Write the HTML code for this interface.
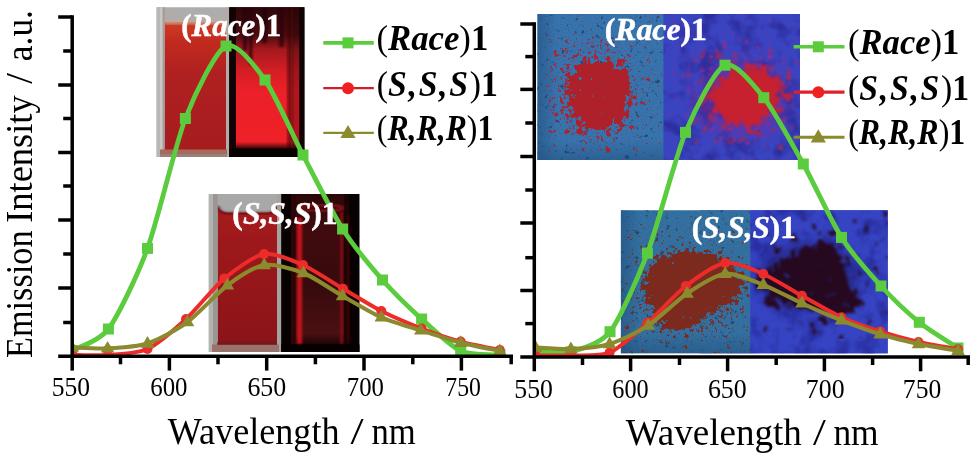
<!DOCTYPE html>
<html><head><meta charset="utf-8"><title>Emission spectra</title>
<style>
html,body{margin:0;padding:0;background:#fff;}
body{width:977px;height:456px;overflow:hidden;}
svg{display:block;font-family:"Liberation Serif","Times New Roman",serif;}
.bi{font-weight:bold;font-style:italic;}
.b{font-weight:bold;}
.i{font-style:italic;}
.w{fill:#fff;}
.wl{stroke:#fff;stroke-width:0.5px;}
</style></head><body>
<svg width="977" height="456" viewBox="0 0 977 456">
<defs>
<filter id="powA" x="-30%" y="-30%" width="160%" height="160%" color-interpolation-filters="sRGB">
  <feTurbulence type="fractalNoise" baseFrequency="0.17" numOctaves="3" seed="4" result="n"/>
  <feColorMatrix in="n" type="matrix" values="0 0 0 0 0  0 0 0 0 0  0 0 0 0 0  1 0 0 0 0" result="na"/>
  <feComposite in="SourceGraphic" in2="na" operator="arithmetic" k1="0" k2="1" k3="2.0" k4="-1.12" result="s"/>
  <feComponentTransfer in="s" result="t"><feFuncA type="linear" slope="9" intercept="-2.2"/></feComponentTransfer>
  <feFlood flood-color="#ae212a" result="f"/>
  <feComposite in="f" in2="t" operator="in" result="c"/>
  <feGaussianBlur in="c" stdDeviation="0.6"/>
</filter>
<filter id="powB" x="-30%" y="-30%" width="160%" height="160%" color-interpolation-filters="sRGB">
  <feTurbulence type="fractalNoise" baseFrequency="0.13" numOctaves="3" seed="9" result="n"/>
  <feColorMatrix in="n" type="matrix" values="0 0 0 0 0  0 0 0 0 0  0 0 0 0 0  1 0 0 0 0" result="na"/>
  <feComposite in="SourceGraphic" in2="na" operator="arithmetic" k1="0" k2="1" k3="1.7" k4="-0.93" result="s"/>
  <feComponentTransfer in="s" result="t"><feFuncA type="linear" slope="5" intercept="-1.1"/></feComponentTransfer>
  <feFlood flood-color="#c7202f" result="f"/>
  <feComposite in="f" in2="t" operator="in" result="c"/>
  <feGaussianBlur in="c" stdDeviation="1.3"/>
</filter>
<filter id="powC" x="-30%" y="-30%" width="160%" height="160%" color-interpolation-filters="sRGB">
  <feTurbulence type="fractalNoise" baseFrequency="0.2" numOctaves="3" seed="15" result="n"/>
  <feColorMatrix in="n" type="matrix" values="0 0 0 0 0  0 0 0 0 0  0 0 0 0 0  1 0 0 0 0" result="na"/>
  <feComposite in="SourceGraphic" in2="na" operator="arithmetic" k1="0" k2="1" k3="1.8" k4="-1.0" result="s"/>
  <feComponentTransfer in="s" result="t"><feFuncA type="linear" slope="8" intercept="-2"/></feComponentTransfer>
  <feFlood flood-color="#7b2a1d" result="f"/>
  <feComposite in="f" in2="t" operator="in" result="c"/>
  <feGaussianBlur in="c" stdDeviation="0.6"/>
</filter>
<filter id="powD" x="-30%" y="-30%" width="160%" height="160%" color-interpolation-filters="sRGB">
  <feTurbulence type="fractalNoise" baseFrequency="0.11" numOctaves="3" seed="31" result="n"/>
  <feColorMatrix in="n" type="matrix" values="0 0 0 0 0  0 0 0 0 0  0 0 0 0 0  1 0 0 0 0" result="na"/>
  <feComposite in="SourceGraphic" in2="na" operator="arithmetic" k1="0" k2="1" k3="2.0" k4="-1.12" result="s"/>
  <feComponentTransfer in="s" result="t"><feFuncA type="linear" slope="5" intercept="-1.1"/></feComponentTransfer>
  <feFlood flood-color="#26081f" result="f"/>
  <feComposite in="f" in2="t" operator="in" result="c"/>
  <feGaussianBlur in="c" stdDeviation="1.4"/>
</filter>
<filter id="scatA" x="-30%" y="-30%" width="160%" height="160%" color-interpolation-filters="sRGB">
  <feTurbulence type="fractalNoise" baseFrequency="0.33" numOctaves="2" seed="41" result="n"/>
  <feColorMatrix in="n" type="matrix" values="0 0 0 0 0  0 0 0 0 0  0 0 0 0 0  1 0 0 0 0" result="na"/>
  <feComposite in="SourceGraphic" in2="na" operator="arithmetic" k1="0" k2="1" k3="1.6" k4="-0.95" result="s"/>
  <feComponentTransfer in="s" result="t"><feFuncA type="linear" slope="9" intercept="-2.2"/></feComponentTransfer>
  <feFlood flood-color="#993048" result="f"/>
  <feComposite in="f" in2="t" operator="in" result="c"/>
  <feGaussianBlur in="c" stdDeviation="0.55"/>
</filter>
<filter id="scatB" x="-30%" y="-30%" width="160%" height="160%" color-interpolation-filters="sRGB">
  <feTurbulence type="fractalNoise" baseFrequency="0.22" numOctaves="2" seed="77" result="n"/>
  <feColorMatrix in="n" type="matrix" values="0 0 0 0 0  0 0 0 0 0  0 0 0 0 0  1 0 0 0 0" result="na"/>
  <feComposite in="SourceGraphic" in2="na" operator="arithmetic" k1="0" k2="1" k3="1.6" k4="-0.95" result="s"/>
  <feComponentTransfer in="s" result="t"><feFuncA type="linear" slope="6" intercept="-1.4"/></feComponentTransfer>
  <feFlood flood-color="#a0288c" result="f"/>
  <feComposite in="f" in2="t" operator="in" result="c"/>
  <feGaussianBlur in="c" stdDeviation="1.2"/>
</filter>
<filter id="scatC" x="-30%" y="-30%" width="160%" height="160%" color-interpolation-filters="sRGB">
  <feTurbulence type="fractalNoise" baseFrequency="0.33" numOctaves="2" seed="51" result="n"/>
  <feColorMatrix in="n" type="matrix" values="0 0 0 0 0  0 0 0 0 0  0 0 0 0 0  1 0 0 0 0" result="na"/>
  <feComposite in="SourceGraphic" in2="na" operator="arithmetic" k1="0" k2="1" k3="1.6" k4="-0.95" result="s"/>
  <feComponentTransfer in="s" result="t"><feFuncA type="linear" slope="9" intercept="-2.2"/></feComponentTransfer>
  <feFlood flood-color="#7a3024" result="f"/>
  <feComposite in="f" in2="t" operator="in" result="c"/>
  <feGaussianBlur in="c" stdDeviation="0.55"/>
</filter>
<filter id="pb5" x="-40%" y="-40%" width="180%" height="180%"><feGaussianBlur stdDeviation="5"/></filter>
<filter id="pb7" x="-40%" y="-40%" width="180%" height="180%"><feGaussianBlur stdDeviation="7"/></filter>
<filter id="speck" x="0" y="0" width="100%" height="100%" color-interpolation-filters="sRGB">
  <feTurbulence type="fractalNoise" baseFrequency="0.2" numOctaves="2" seed="7" result="n"/>
  <feColorMatrix in="n" type="matrix" values="0 0 0 0 0  0 0 0 0 0  0 0 0 0 0  8 0 0 0 -5.3" result="a"/>
  <feComposite in="SourceGraphic" in2="a" operator="in" result="q"/><feGaussianBlur in="q" stdDeviation="0.5"/>
</filter>
<filter id="grain" x="0" y="0" width="100%" height="100%" color-interpolation-filters="sRGB">
  <feTurbulence type="fractalNoise" baseFrequency="0.75" numOctaves="2" seed="3" result="n"/>
  <feColorMatrix in="n" type="matrix" values="0 0 0 0 0  0 0 0 0 0  0 0 0 0 0  1.2 0 0 0 -0.5" result="a"/>
  <feComposite in="SourceGraphic" in2="a" operator="in"/>
</filter>
<filter id="cloud" x="0" y="0" width="100%" height="100%" color-interpolation-filters="sRGB">
  <feTurbulence type="fractalNoise" baseFrequency="0.05" numOctaves="3" seed="23" result="n"/>
  <feColorMatrix in="n" type="matrix" values="0 0 0 0 0  0 0 0 0 0  0 0 0 0 0  3.2 0 0 0 -1.45" result="a"/>
  <feComposite in="SourceGraphic" in2="a" operator="in"/>
</filter>
<filter id="b1" x="-50%" y="-10%" width="200%" height="120%"><feGaussianBlur stdDeviation="1"/></filter>
<filter id="b2"><feGaussianBlur stdDeviation="2"/></filter>
<filter id="b3"><feGaussianBlur stdDeviation="3.5"/></filter>
<filter id="b6" x="-50%" y="-50%" width="200%" height="200%"><feGaussianBlur stdDeviation="7"/></filter>
<radialGradient id="rg1"><stop offset="0" stop-color="#000" stop-opacity="1"/><stop offset="0.55" stop-color="#000" stop-opacity="0.95"/><stop offset="0.8" stop-color="#000" stop-opacity="0.45"/><stop offset="1" stop-color="#000" stop-opacity="0"/></radialGradient>
<linearGradient id="liqA" x1="0" y1="0" x2="0" y2="1">
  <stop offset="0" stop-color="#cf3e24"/><stop offset="0.15" stop-color="#c22a1f"/><stop offset="0.4" stop-color="#b02020"/><stop offset="1" stop-color="#a61c1f"/>
</linearGradient>
<linearGradient id="glowA" x1="0" y1="0" x2="0" y2="1">
  <stop offset="0" stop-color="#2e0708"/><stop offset="0.2" stop-color="#4c0c0f"/><stop offset="0.3" stop-color="#a4191e"/><stop offset="0.45" stop-color="#d41e24"/><stop offset="0.6" stop-color="#ec2028"/><stop offset="0.95" stop-color="#ee2028"/><stop offset="1" stop-color="#2a0405"/>
</linearGradient>
<linearGradient id="liqB" x1="0" y1="0" x2="0" y2="1">
  <stop offset="0" stop-color="#a81c1e"/><stop offset="0.3" stop-color="#9c181b"/><stop offset="1" stop-color="#8a1418"/>
</linearGradient>
<linearGradient id="darkB" x1="0" y1="0" x2="0" y2="1">
  <stop offset="0" stop-color="#2c0708"/><stop offset="0.25" stop-color="#400b0e"/><stop offset="0.6" stop-color="#360a0c"/><stop offset="0.93" stop-color="#4a1012"/><stop offset="1" stop-color="#200405"/>
</linearGradient>
<clipPath id="cA"><rect x="156.6" y="7.2" width="147.8" height="149.7"/></clipPath>
<clipPath id="cB"><rect x="208.8" y="194" width="150.7" height="158"/></clipPath>
<clipPath id="cC1"><rect x="537.4" y="14" width="126.3" height="146"/></clipPath>
<clipPath id="cC2"><rect x="663.7" y="14" width="136.3" height="146"/></clipPath>
<clipPath id="cD1"><rect x="620.9" y="210.3" width="129.6" height="143"/></clipPath>
<clipPath id="cD2"><rect x="750.5" y="210.3" width="137.2" height="143"/></clipPath>
<clipPath id="plotL"><rect x="72.2" y="0" width="448" height="356.3"/></clipPath>
<clipPath id="plotR"><rect x="534.3" y="0" width="443" height="357"/></clipPath>
<linearGradient id="vigL" x1="0" y1="0" x2="1" y2="0"><stop offset="0" stop-color="#1d4a78" stop-opacity="0.5"/><stop offset="1" stop-color="#1d4a78" stop-opacity="0"/></linearGradient>
<linearGradient id="vigB" x1="0" y1="1" x2="0" y2="0"><stop offset="0" stop-color="#1d4a78" stop-opacity="0.45"/><stop offset="1" stop-color="#1d4a78" stop-opacity="0"/></linearGradient>

</defs>
<rect width="977" height="456" fill="#fff"/>

<!-- photo A: racemate solution, daylight / UV -->
<g clip-path="url(#cA)">
  <rect x="156" y="7" width="74" height="151" fill="#aeadac"/>
  <rect x="164.6" y="22" width="61.4" height="128" fill="url(#liqA)"/>
  <rect x="156" y="7" width="5" height="151" fill="#b9b7b5"/>
  <rect x="160" y="7" width="3" height="146" fill="#c9c6c4"/>
  <rect x="162.6" y="7" width="2.2" height="146" fill="#a39c98"/>
  <rect x="226" y="7" width="3.5" height="151" fill="#b1acaa"/>
  <rect x="164.6" y="19.5" width="61.4" height="5" fill="#c9a698" opacity="0.75" filter="url(#b1)"/>
  <rect x="160" y="149.5" width="67" height="8" fill="#a66a5c"/>
  <rect x="160" y="154" width="67" height="4" fill="#9b8078"/>
  <rect x="229.3" y="7" width="76" height="151" fill="#0c0203"/>
  <rect x="236" y="7" width="63.5" height="142" fill="url(#glowA)"/>
  <rect x="229.3" y="7" width="6.7" height="151" fill="#120203"/>
  <rect x="243" y="7" width="4" height="44" fill="#240607" opacity="0.7" filter="url(#b1)"/>
  <rect x="249" y="7" width="3.4" height="58" fill="#2a0608" opacity="0.75" filter="url(#b1)"/>
  <rect x="262" y="7" width="5" height="36" fill="#20050a" opacity="0.7" filter="url(#b1)"/>
  <rect x="279" y="7" width="5" height="40" fill="#2a0608" opacity="0.7" filter="url(#b1)"/>
  <rect x="289" y="7" width="10.5" height="142" fill="#200406" opacity="0.3"/>
  <rect x="287.6" y="7" width="1.8" height="142" fill="#3a080a" opacity="0.85" filter="url(#b1)"/>
  <rect x="291.3" y="7" width="1.6" height="142" fill="#4a0a0c" opacity="0.7" filter="url(#b1)"/>
  <rect x="299.5" y="7" width="6" height="151" fill="#0e0203"/>
  <rect x="229.3" y="148.5" width="76" height="10" fill="#080102"/>
</g>
<!-- photo B: (S,S,S) solution -->
<g clip-path="url(#cB)">
  <rect x="208" y="194" width="74" height="159" fill="#a9a8a8"/>
  <path d="M217.7,205 Q218.5,212 227,212.5 L268,212.5 Q276,212 277,205 L277,347 L217.7,347 Z" fill="url(#liqB)"/>
  <path d="M218.2,206 Q219,213 227,213.6 L268,213.6 Q275.6,213 276.5,206" fill="none" stroke="#5e1216" stroke-width="2.6" opacity="0.75" filter="url(#b1)"/>
  <rect x="208" y="194" width="5" height="159" fill="#b5b3b2"/>
  <rect x="213" y="194" width="4.7" height="153" fill="#9a9694"/>
  <rect x="277" y="194" width="4.3" height="159" fill="#a5a2a0"/>
  <rect x="212" y="344.5" width="67" height="8" fill="#9a726c"/>
  <rect x="217" y="342" width="60" height="3" fill="#6e1a1c" opacity="0.6"/>
  <rect x="281.2" y="194" width="79" height="159" fill="#070102"/>
  <rect x="291" y="194" width="58" height="150" fill="url(#darkB)"/>
  <rect x="291" y="194" width="5" height="150" fill="#2a0507" opacity="0.9"/>
  <rect x="296.8" y="218" width="5.4" height="126" fill="#c4161c" opacity="0.95" filter="url(#b1)"/>
  <rect x="340" y="212" width="3" height="132" fill="#8a1014" opacity="0.85" filter="url(#b1)"/>
  <rect x="344" y="194" width="5" height="150" fill="#1a0304" opacity="0.9"/>
  <rect x="347.5" y="215" width="1.8" height="128" fill="#5a0a0d" opacity="0.8" filter="url(#b1)"/>
  <ellipse cx="321" cy="208" rx="22" ry="3.2" fill="none" stroke="#a8161c" stroke-width="2.2" opacity="0.85" filter="url(#b1)"/>
  <rect x="281.2" y="344.5" width="79" height="9" fill="#060001"/>
</g>
<!-- photo C: racemate powder -->
<rect x="600" y="14" width="200" height="146" fill="#3b44c0"/>
<g clip-path="url(#cC1)">
  <rect x="537" y="13" width="128" height="148" fill="#3a75af"/>
  <rect x="537" y="13" width="128" height="148" fill="#2a5f92" filter="url(#grain)"/>
  <rect x="537" y="13" width="128" height="148" fill="#1f4a78" filter="url(#speck)"/>
  <rect x="537" y="13" width="20" height="148" fill="url(#vigL)"/><rect x="537" y="140" width="128" height="21" fill="url(#vigB)"/>
  <g filter="url(#scatA)"><ellipse cx="590" cy="88" rx="46" ry="52" fill="#000" opacity="0.19"/></g>
  <g filter="url(#powA)"><polygon filter="url(#pb7)" transform="translate(599,94) scale(0.9) translate(-599,-94)" points="566,76 578,60 612,56 630,68 634,100 626,126 600,134 576,128 564,108" fill="#000"/></g>
</g>
<g clip-path="url(#cC2)">
  <rect x="663" y="13" width="138" height="148" fill="#3b44c0"/>
  <rect x="663" y="13" width="138" height="148" fill="#2c2e9e" filter="url(#cloud)"/>
  <ellipse cx="742" cy="98" rx="44" ry="36" fill="#7a2a9a" opacity="0.55" filter="url(#b6)"/>
  <g filter="url(#scatB)"><ellipse cx="738" cy="92" rx="58" ry="54" fill="#000" opacity="0.2"/></g>
  <g filter="url(#powB)"><polygon filter="url(#pb7)" transform="translate(746,97) scale(0.9) translate(-746,-97)" points="704,102 722,70 760,64 790,82 778,110 752,134 724,124" fill="#000"/></g>
</g>
<!-- photo D: (S,S,S) powder -->
<rect x="700" y="210.3" width="187.7" height="143" fill="#3644c3"/>
<g clip-path="url(#cD1)">
  <rect x="620" y="210" width="132" height="144" fill="#3572a2"/>
  <rect x="620" y="210" width="132" height="144" fill="#2a5c8c" filter="url(#grain)"/>
  <rect x="620" y="210" width="132" height="144" fill="#1f4a74" filter="url(#speck)"/>
  <rect x="620" y="210" width="20" height="144" fill="url(#vigL)"/><rect x="620" y="332" width="132" height="22" fill="url(#vigB)"/>
  <g filter="url(#scatC)"><ellipse cx="690" cy="292" rx="56" ry="44" fill="#000" opacity="0.18"/></g>
  <g filter="url(#powC)"><polygon filter="url(#pb5)" points="642,283 656,260 682,252 715,254 734,268 745,285 730,302 704,316 684,331 664,328 652,309" fill="#000"/></g>
</g>
<g clip-path="url(#cD2)">
  <rect x="750" y="210" width="139" height="144" fill="#3644c3"/>
  <rect x="750" y="210" width="139" height="144" fill="#2a2fa2" filter="url(#cloud)"/>
  <ellipse cx="809" cy="277" rx="50" ry="34" fill="#1c1a70" opacity="0.6" filter="url(#b6)"/>
  <g filter="url(#powD)"><polygon filter="url(#pb7)" transform="translate(810,278) scale(0.98) translate(-810,-278)" points="760,284 782,258 812,247 826,234 840,250 845,275 864,300 848,313 815,315 788,305 766,300" fill="#000"/></g>
</g>

<g clip-path="url(#plotL)"><path d="M72.0,350.5 C76.6,347.8 98.8,341.9 108.4,329.0 C118.0,316.1 137.7,275.1 147.5,248.4 C157.3,221.7 175.5,144.1 185.4,118.5 C195.3,92.9 215.9,50.9 226.0,46.0 C236.1,41.1 255.2,66.2 265.0,80.0 C274.8,93.8 293.2,136.1 303.0,155.0 C312.8,173.9 332.5,213.2 342.6,229.0 C352.7,244.8 372.5,268.6 382.5,280.0 C392.5,291.4 411.7,310.0 421.6,319.0 C431.5,328.0 450.8,346.4 460.7,351.0 C470.6,355.6 495.0,354.5 500.0,355.0" fill="none" stroke="#5acc3d" stroke-width="4.8" stroke-linejoin="round"/><rect x="66.5" y="345.0" width="11" height="11" fill="#5acc3d"/><rect x="102.9" y="323.5" width="11" height="11" fill="#5acc3d"/><rect x="142.0" y="242.9" width="11" height="11" fill="#5acc3d"/><rect x="179.9" y="113.0" width="11" height="11" fill="#5acc3d"/><rect x="220.5" y="40.5" width="11" height="11" fill="#5acc3d"/><rect x="259.5" y="74.5" width="11" height="11" fill="#5acc3d"/><rect x="297.5" y="149.5" width="11" height="11" fill="#5acc3d"/><rect x="337.1" y="223.5" width="11" height="11" fill="#5acc3d"/><rect x="377.0" y="274.5" width="11" height="11" fill="#5acc3d"/><rect x="416.1" y="313.5" width="11" height="11" fill="#5acc3d"/><rect x="455.2" y="345.5" width="11" height="11" fill="#5acc3d"/><rect x="494.5" y="349.5" width="11" height="11" fill="#5acc3d"/><path d="M72.0,354.8 C76.5,354.8 98.0,355.7 107.6,355.0 C117.2,354.3 137.6,353.6 147.5,349.0 C157.4,344.4 176.3,327.9 186.0,319.0 C195.7,310.1 214.4,286.7 224.3,278.5 C234.2,270.3 254.0,255.7 264.0,254.0 C274.0,252.3 293.0,260.6 303.0,265.0 C313.0,269.4 333.1,282.9 343.0,288.7 C352.9,294.5 371.3,306.0 381.3,311.0 C391.3,316.0 411.5,324.6 421.6,328.5 C431.7,332.4 450.8,338.9 460.7,341.6 C470.6,344.3 494.8,348.9 499.8,350.0" fill="none" stroke="#ee2b2b" stroke-width="4" stroke-linejoin="round"/><circle cx="72.0" cy="354.8" r="5" fill="#ee2b2b"/><circle cx="107.6" cy="355.0" r="5" fill="#ee2b2b"/><circle cx="147.5" cy="349.0" r="5" fill="#ee2b2b"/><circle cx="186.0" cy="319.0" r="5" fill="#ee2b2b"/><circle cx="224.3" cy="278.5" r="5" fill="#ee2b2b"/><circle cx="264.0" cy="254.0" r="5" fill="#ee2b2b"/><circle cx="303.0" cy="265.0" r="5" fill="#ee2b2b"/><circle cx="343.0" cy="288.7" r="5" fill="#ee2b2b"/><circle cx="381.3" cy="311.0" r="5" fill="#ee2b2b"/><circle cx="421.6" cy="328.5" r="5" fill="#ee2b2b"/><circle cx="460.7" cy="341.6" r="5" fill="#ee2b2b"/><circle cx="499.8" cy="350.0" r="5" fill="#ee2b2b"/><path d="M72.0,347.5 C76.5,347.6 98.0,348.9 107.6,348.4 C117.2,347.9 137.4,346.8 147.5,343.5 C157.6,340.2 177.4,329.4 187.5,322.0 C197.6,314.6 217.7,292.5 227.4,285.3 C237.1,278.1 254.6,266.6 264.2,265.0 C273.8,263.4 293.6,269.1 303.5,273.0 C313.4,276.9 332.7,290.4 342.6,296.0 C352.5,301.6 371.4,313.0 381.3,317.4 C391.2,321.8 410.7,327.2 420.8,330.4 C430.9,333.6 450.7,340.1 460.7,342.7 C470.7,345.3 494.8,349.9 499.8,351.0" fill="none" stroke="#8b8a2e" stroke-width="4.1" stroke-linejoin="round"/><polygon points="72.0,340.0 65.2,351.7 78.8,351.7" fill="#8b8a2e"/><polygon points="107.6,340.9 100.8,352.6 114.4,352.6" fill="#8b8a2e"/><polygon points="147.5,336.0 140.7,347.7 154.3,347.7" fill="#8b8a2e"/><polygon points="187.5,314.5 180.7,326.2 194.3,326.2" fill="#8b8a2e"/><polygon points="227.4,277.8 220.6,289.5 234.2,289.5" fill="#8b8a2e"/><polygon points="264.2,257.5 257.4,269.2 271.0,269.2" fill="#8b8a2e"/><polygon points="303.5,265.5 296.7,277.2 310.3,277.2" fill="#8b8a2e"/><polygon points="342.6,288.5 335.8,300.2 349.4,300.2" fill="#8b8a2e"/><polygon points="381.3,309.9 374.5,321.6 388.1,321.6" fill="#8b8a2e"/><polygon points="420.8,322.9 414.0,334.6 427.6,334.6" fill="#8b8a2e"/><polygon points="460.7,335.2 453.9,346.9 467.5,346.9" fill="#8b8a2e"/><polygon points="499.8,343.5 493.0,355.2 506.6,355.2" fill="#8b8a2e"/></g>
<g clip-path="url(#plotR)"><path d="M535.5,351.5 C540.0,351.5 561.6,354.3 571.0,351.8 C580.4,349.3 600.3,344.2 610.0,331.7 C619.7,319.2 637.8,278.4 647.4,253.2 C657.0,228.0 675.7,156.2 685.5,132.4 C695.3,108.6 715.1,69.6 725.0,65.2 C734.9,60.8 753.9,85.2 763.8,97.7 C773.7,110.2 793.5,146.3 803.3,164.0 C813.1,181.7 831.7,221.9 841.5,237.4 C851.3,252.9 871.1,275.2 881.0,286.0 C890.9,296.8 909.5,314.4 919.3,322.3 C929.1,330.2 953.1,344.7 958.0,348.0" fill="none" stroke="#5acc3d" stroke-width="4.8" stroke-linejoin="round"/><rect x="530.0" y="346.0" width="11" height="11" fill="#5acc3d"/><rect x="565.5" y="346.3" width="11" height="11" fill="#5acc3d"/><rect x="604.5" y="326.2" width="11" height="11" fill="#5acc3d"/><rect x="641.9" y="247.7" width="11" height="11" fill="#5acc3d"/><rect x="680.0" y="126.9" width="11" height="11" fill="#5acc3d"/><rect x="719.5" y="59.7" width="11" height="11" fill="#5acc3d"/><rect x="758.3" y="92.2" width="11" height="11" fill="#5acc3d"/><rect x="797.8" y="158.5" width="11" height="11" fill="#5acc3d"/><rect x="836.0" y="231.9" width="11" height="11" fill="#5acc3d"/><rect x="875.5" y="280.5" width="11" height="11" fill="#5acc3d"/><rect x="913.8" y="316.8" width="11" height="11" fill="#5acc3d"/><rect x="952.5" y="342.5" width="11" height="11" fill="#5acc3d"/><path d="M535.5,355.3 C540.0,355.3 561.6,355.8 571.0,355.5 C580.4,355.2 599.9,356.7 609.6,352.6 C619.3,348.5 637.7,331.4 647.4,323.0 C657.1,314.6 675.9,293.6 685.8,286.0 C695.7,278.4 715.4,264.5 725.2,263.0 C735.0,261.5 753.6,269.8 763.3,274.0 C773.0,278.2 792.1,290.3 802.0,295.8 C811.9,301.3 831.6,312.7 841.5,317.2 C851.4,321.7 870.4,328.3 880.2,331.4 C890.0,334.5 908.6,339.7 918.5,342.0 C928.4,344.3 953.0,348.3 958.0,349.2" fill="none" stroke="#ee2b2b" stroke-width="4" stroke-linejoin="round"/><circle cx="535.5" cy="355.3" r="5" fill="#ee2b2b"/><circle cx="571.0" cy="355.5" r="5" fill="#ee2b2b"/><circle cx="609.6" cy="352.6" r="5" fill="#ee2b2b"/><circle cx="647.4" cy="323.0" r="5" fill="#ee2b2b"/><circle cx="685.8" cy="286.0" r="5" fill="#ee2b2b"/><circle cx="725.2" cy="263.0" r="5" fill="#ee2b2b"/><circle cx="763.3" cy="274.0" r="5" fill="#ee2b2b"/><circle cx="802.0" cy="295.8" r="5" fill="#ee2b2b"/><circle cx="841.5" cy="317.2" r="5" fill="#ee2b2b"/><circle cx="880.2" cy="331.4" r="5" fill="#ee2b2b"/><circle cx="918.5" cy="342.0" r="5" fill="#ee2b2b"/><circle cx="958.0" cy="349.2" r="5" fill="#ee2b2b"/><path d="M535.5,347.5 C540.0,347.7 561.5,349.4 570.9,349.0 C580.3,348.6 599.8,347.0 609.6,344.0 C619.4,341.0 638.4,331.9 648.2,325.5 C658.0,319.1 677.2,300.1 687.0,293.5 C696.8,286.9 715.5,274.8 725.2,273.7 C734.9,272.6 753.6,281.1 763.3,284.8 C773.0,288.5 792.1,298.8 802.0,303.3 C811.9,307.8 831.6,316.4 841.5,320.3 C851.4,324.2 870.4,331.2 880.2,334.2 C890.0,337.2 908.6,341.9 918.5,344.0 C928.4,346.1 953.0,349.9 958.0,350.7" fill="none" stroke="#8b8a2e" stroke-width="4.1" stroke-linejoin="round"/><polygon points="535.5,340.0 528.7,351.7 542.3,351.7" fill="#8b8a2e"/><polygon points="570.9,341.5 564.1,353.2 577.7,353.2" fill="#8b8a2e"/><polygon points="609.6,336.5 602.8,348.2 616.4,348.2" fill="#8b8a2e"/><polygon points="648.2,318.0 641.4,329.7 655.0,329.7" fill="#8b8a2e"/><polygon points="687.0,286.0 680.2,297.7 693.8,297.7" fill="#8b8a2e"/><polygon points="725.2,266.2 718.4,277.9 732.0,277.9" fill="#8b8a2e"/><polygon points="763.3,277.3 756.5,289.0 770.1,289.0" fill="#8b8a2e"/><polygon points="802.0,295.8 795.2,307.5 808.8,307.5" fill="#8b8a2e"/><polygon points="841.5,312.8 834.7,324.5 848.3,324.5" fill="#8b8a2e"/><polygon points="880.2,326.7 873.4,338.4 887.0,338.4" fill="#8b8a2e"/><polygon points="918.5,336.5 911.7,348.2 925.3,348.2" fill="#8b8a2e"/><polygon points="958.0,343.2 951.2,354.9 964.8,354.9" fill="#8b8a2e"/></g>
<g stroke="#000" stroke-width="3.5" fill="none" stroke-linecap="butt"><line x1="72.2" y1="15.25" x2="72.2" y2="358.05"/><line x1="58.2" y1="356.3" x2="513" y2="356.3"/><line x1="58.2" y1="17" x2="72.2" y2="17"/><line x1="58.2" y1="85" x2="72.2" y2="85"/><line x1="58.2" y1="152.5" x2="72.2" y2="152.5"/><line x1="58.2" y1="220" x2="72.2" y2="220"/><line x1="58.2" y1="288" x2="72.2" y2="288"/><line x1="63.2" y1="51" x2="72.2" y2="51"/><line x1="63.2" y1="118.5" x2="72.2" y2="118.5"/><line x1="63.2" y1="186" x2="72.2" y2="186"/><line x1="63.2" y1="254" x2="72.2" y2="254"/><line x1="63.2" y1="322.5" x2="72.2" y2="322.5"/><line x1="72.2" y1="356.3" x2="72.2" y2="370.6"/><line x1="169.4" y1="356.3" x2="169.4" y2="370.6"/><line x1="266.7" y1="356.3" x2="266.7" y2="370.6"/><line x1="364" y1="356.3" x2="364" y2="370.6"/><line x1="461.4" y1="356.3" x2="461.4" y2="370.6"/><line x1="120.5" y1="356.3" x2="120.5" y2="364.3"/><line x1="218" y1="356.3" x2="218" y2="364.3"/><line x1="315.4" y1="356.3" x2="315.4" y2="364.3"/><line x1="412.8" y1="356.3" x2="412.8" y2="364.3"/><line x1="511.2" y1="356.3" x2="511.2" y2="364.3"/></g>
<g stroke="#000" stroke-width="3.5" fill="none" stroke-linecap="butt"><line x1="534.3" y1="22.25" x2="534.3" y2="358.75"/><line x1="520.3" y1="357" x2="970" y2="357"/><line x1="520.3" y1="24" x2="534.3" y2="24"/><line x1="520.3" y1="89.4" x2="534.3" y2="89.4"/><line x1="520.3" y1="156.5" x2="534.3" y2="156.5"/><line x1="520.3" y1="223" x2="534.3" y2="223"/><line x1="520.3" y1="290.5" x2="534.3" y2="290.5"/><line x1="525.3" y1="56.6" x2="534.3" y2="56.6"/><line x1="525.3" y1="123" x2="534.3" y2="123"/><line x1="525.3" y1="190" x2="534.3" y2="190"/><line x1="525.3" y1="257.7" x2="534.3" y2="257.7"/><line x1="525.3" y1="323.6" x2="534.3" y2="323.6"/><line x1="534.3" y1="357" x2="534.3" y2="371.3"/><line x1="630.6" y1="357" x2="630.6" y2="371.3"/><line x1="727.6" y1="357" x2="727.6" y2="371.3"/><line x1="824.4" y1="357" x2="824.4" y2="371.3"/><line x1="920.6" y1="357" x2="920.6" y2="371.3"/><line x1="582.5" y1="357" x2="582.5" y2="365"/><line x1="679.5" y1="357" x2="679.5" y2="365"/><line x1="776.2" y1="357" x2="776.2" y2="365"/><line x1="872.6" y1="357" x2="872.6" y2="365"/><line x1="968.2" y1="357" x2="968.2" y2="365"/></g>
<text transform="translate(51.68,395.80) scale(0.9474,1.0000)" font-size="27" class="">550</text>
<text transform="translate(150.25,395.80) scale(0.9203,1.0000)" font-size="27" class="">600</text>
<text transform="translate(247.40,395.80) scale(0.9595,1.0000)" font-size="27" class="">650</text>
<text transform="translate(346.80,395.80) scale(0.9166,1.0000)" font-size="27" class="">700</text>
<text transform="translate(445.36,395.80) scale(0.8795,1.0000)" font-size="27" class="">750</text>
<text transform="translate(514.27,397.60) scale(0.9526,1.0000)" font-size="27" class="">550</text>
<text transform="translate(612.28,397.60) scale(0.8967,1.0000)" font-size="27" class="">600</text>
<text transform="translate(707.90,397.60) scale(0.9595,1.0000)" font-size="27" class="">650</text>
<text transform="translate(805.83,397.60) scale(0.9563,1.0000)" font-size="27" class="">700</text>
<text transform="translate(902.84,397.60) scale(0.9483,1.0000)" font-size="27" class="">750</text>
<text transform="translate(167.80,443.70) scale(0.9643,1.0000)" font-size="37.5" class="">Wavelength</text><text transform="translate(350.60,443.70) scale(1.2585,1.0000)" font-size="37.5" class="">/</text><text transform="translate(371.41,443.70) scale(0.9247,1.0000)" font-size="37.5" class="">nm</text>
<text transform="translate(625.80,444.60) scale(0.9885,1.0000)" font-size="37.5" class="">Wavelength</text><text transform="translate(812.90,444.60) scale(1.2293,1.0000)" font-size="37.5" class="">/</text><text transform="translate(833.39,444.60) scale(0.9441,1.0000)" font-size="37.5" class="">nm</text>
<text transform="translate(31.80,357.91) rotate(-90) scale(0.9130,1)" font-size="37.5" class="">Emission</text><text transform="translate(31.80,222.81) rotate(-90) scale(0.9719,1)" font-size="37.5" class="">Intensity</text><text transform="translate(31.80,83.70) rotate(-90) scale(1.0244,1)" font-size="37.5" class="">/</text><text transform="translate(31.80,61.18) rotate(-90) scale(0.9446,1)" font-size="37.5" class="">a.u.</text>
<line x1="323.3" y1="42.9" x2="373.8" y2="42.9" stroke="#5acc3d" stroke-width="3.6"/><rect x="342.5" y="37.4" width="11" height="11" fill="#5acc3d"/><line x1="323.3" y1="88.2" x2="373.8" y2="88.2" stroke="#cc1f28" stroke-width="2.3"/><circle cx="348.0" cy="88.2" r="6" fill="#ee2020"/><line x1="323.3" y1="132.9" x2="373.8" y2="132.9" stroke="#8b8a2e" stroke-width="2.3"/><polygon points="348.0,125.0 340.4,138.1 355.6,138.1" fill="#8b8a2e"/>
<text transform="translate(376.51,50.00) scale(0.9918,1.0000)" font-size="35" class="">(<tspan class="bi">Race</tspan>)<tspan class="b">1</tspan></text><text transform="translate(376.75,95.50) scale(0.9636,1.0000)" font-size="35" class="">(<tspan class="bi" letter-spacing="1.8">S,S,S</tspan>)<tspan class="b">1</tspan></text><text transform="translate(376.84,140.00) scale(0.9072,1.0000)" font-size="35" class="">(<tspan class="bi">R,R,R</tspan>)<tspan class="b">1</tspan></text>
<line x1="793.6" y1="46.8" x2="844.5" y2="46.8" stroke="#5acc3d" stroke-width="3.6"/><rect x="812.8" y="41.3" width="11" height="11" fill="#5acc3d"/><line x1="793.6" y1="92.2" x2="844.5" y2="92.2" stroke="#e0202a" stroke-width="3.3"/><circle cx="818.3" cy="92.2" r="6" fill="#ee2020"/><line x1="793.6" y1="137.2" x2="844.5" y2="137.2" stroke="#8b8a2e" stroke-width="3"/><polygon points="818.3,129.3 810.7,142.4 825.9,142.4" fill="#8b8a2e"/>
<text transform="translate(848.02,54.00) scale(0.9881,1.0000)" font-size="35" class="">(<tspan class="bi">Race</tspan>)<tspan class="b">1</tspan></text><text transform="translate(848.05,100.00) scale(0.9636,1.0000)" font-size="35" class="">(<tspan class="bi" letter-spacing="1.8">S,S,S</tspan>)<tspan class="b">1</tspan></text><text transform="translate(848.13,144.20) scale(0.9128,1.0000)" font-size="35" class="">(<tspan class="bi">R,R,R</tspan>)<tspan class="b">1</tspan></text>
<text transform="translate(181.29,35.50) scale(0.9692,1.0000)" font-size="32" class="b wl" fill="#fff">(<tspan class="i">Race</tspan>)1</text>
<text transform="translate(232.37,223.50) scale(0.9865,1.0000)" font-size="32" class="b wl" fill="#fff">(<tspan class="i">S,S,S</tspan>)1</text>
<text transform="translate(604.76,40.30) scale(0.9910,1.0000)" font-size="32" class="b wl" fill="#fff">(<tspan class="i">Race</tspan>)1</text>
<text transform="translate(691.78,237.60) scale(0.9750,1.0000)" font-size="32" class="b wl" fill="#fff">(<tspan class="i">S,S,S</tspan>)1</text>
</svg></body></html>
